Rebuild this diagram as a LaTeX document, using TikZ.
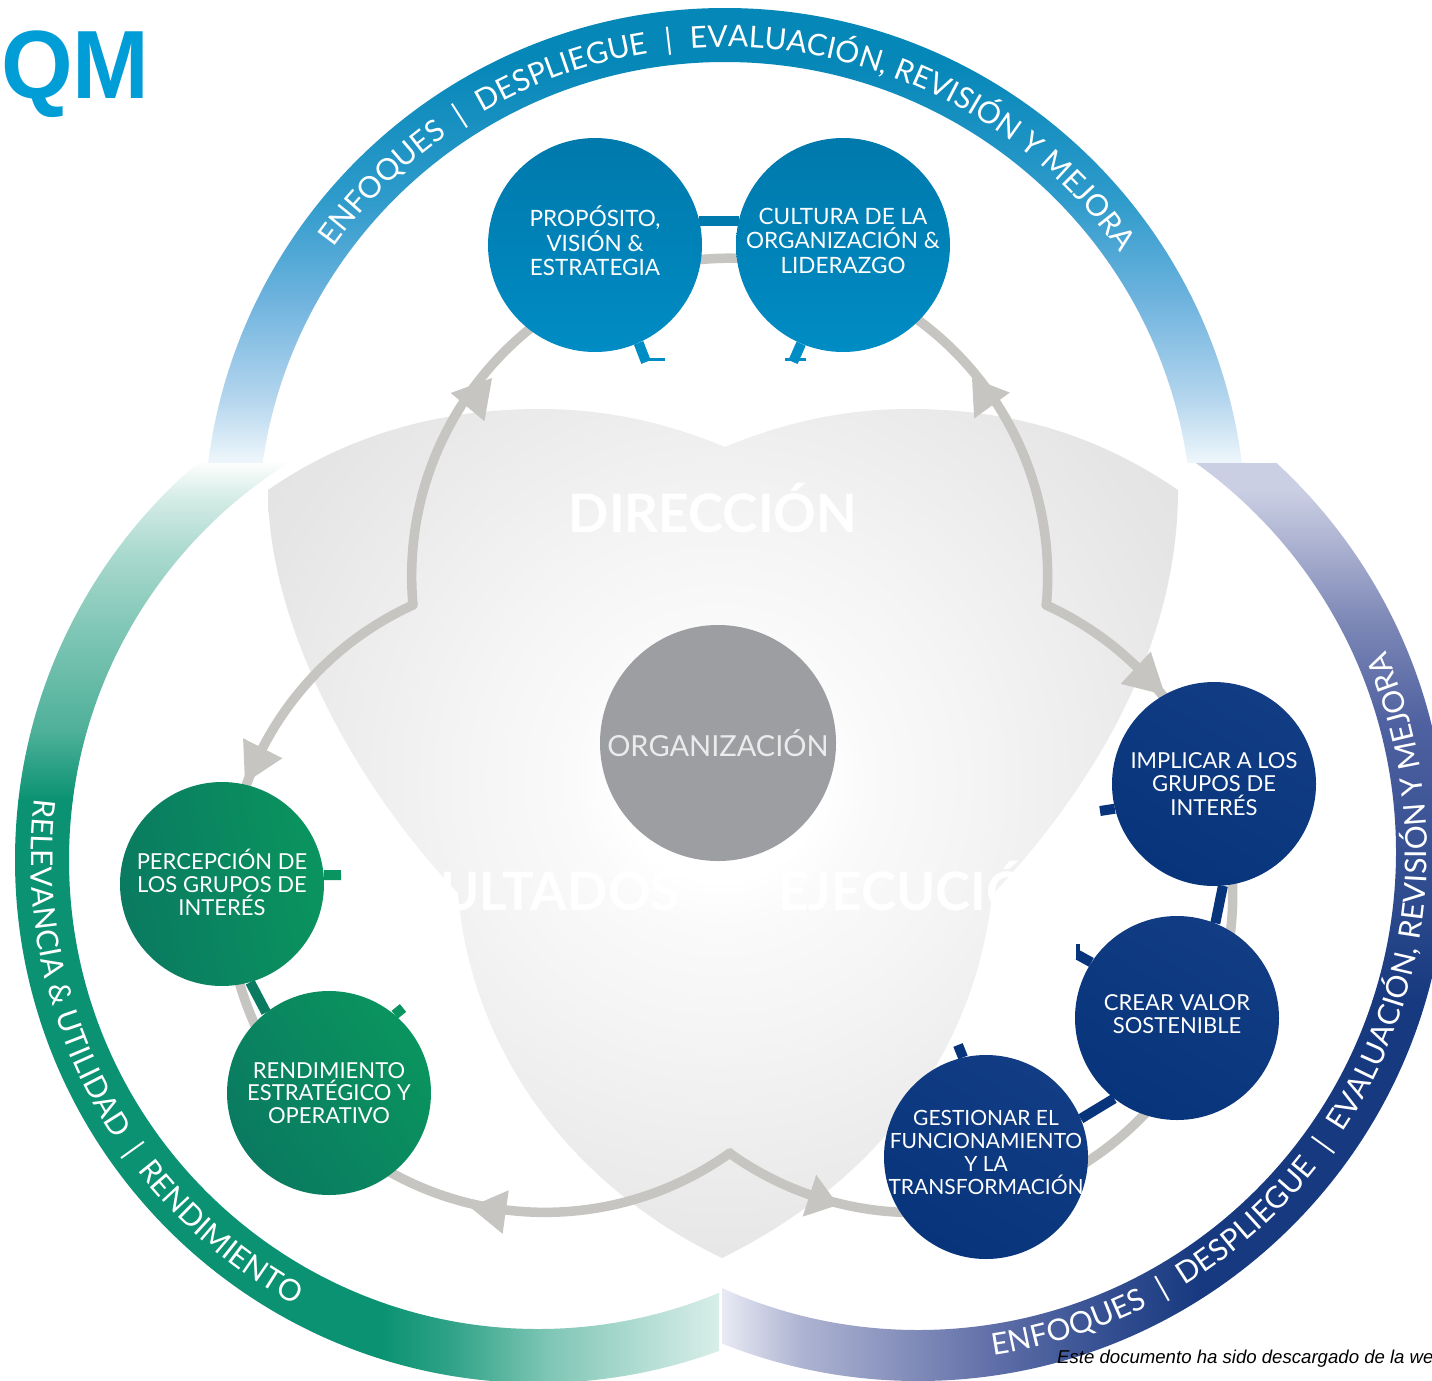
\documentclass[tikz,border=0pt]{standalone}
\usepackage{fontspec}
\setmainfont{Lato}
\newfontfamily\arialfont{Liberation Sans}
\newfontface\arialbold{Liberation Sans Bold}
\usetikzlibrary{decorations.text}

\definecolor{ringblue}{HTML}{0587B8}
\definecolor{ringsky}{HTML}{6FB3DE}
\definecolor{ringsky2}{HTML}{2E9BCB}
\definecolor{ringsky3}{HTML}{B5D6EE}
\definecolor{ringsky4}{HTML}{EEF6FB}
\definecolor{ringgreen}{HTML}{0A9272}
\definecolor{ringnavy}{HTML}{17397F}
\definecolor{nv1}{HTML}{E9EAF4}
\definecolor{nv2}{HTML}{CBCFE4}
\definecolor{nv3}{HTML}{AEB4D2}
\definecolor{nv4}{HTML}{7C87B6}
\definecolor{nv5}{HTML}{4F61A0}
\definecolor{nv6}{HTML}{2C4A8D}
\definecolor{linegrey}{HTML}{C6C5C1}
\definecolor{barblue}{HTML}{0079AC}
\definecolor{barblue2}{HTML}{008CC4}
\definecolor{barnavy}{HTML}{07347A}
\definecolor{barnavy2}{HTML}{123D85}
\definecolor{bargreen}{HTML}{0A7A60}
\definecolor{bargreen2}{HTML}{0A945F}
\definecolor{orggrey}{HTML}{9D9EA2}
\definecolor{qmblue}{HTML}{009DD6}

\pgfdeclareverticalshading{topring}{100bp}{color(0bp)=(ringsky4); color(25bp)=(ringsky4); color(31.7bp)=(ringsky3); color(42.5bp)=(ringsky); color(53.4bp)=(ringsky2); color(68.5bp)=(ringblue); color(100bp)=(ringblue)}
\pgfdeclareverticalshading{greenup}{100bp}{color(0bp)=(ringgreen); color(25bp)=(ringgreen); color(34.7bp)=(ringgreen!72!white); color(48.6bp)=(ringgreen!52!white); color(59.7bp)=(ringgreen!34!white); color(66.7bp)=(ringgreen!18!white); color(72.2bp)=(white); color(100bp)=(white)}
\pgfdeclarehorizontalshading{greenlow}{100bp}{color(0bp)=(ringgreen); color(25bp)=(ringgreen); color(35.3bp)=(ringgreen!85!white); color(50bp)=(ringgreen!52!white); color(64.7bp)=(ringgreen!30!white); color(75bp)=(ringgreen!16!white); color(100bp)=(ringgreen!16!white)}
\pgfdeclareverticalshading{navyup}{100bp}{color(0bp)=(ringnavy); color(25bp)=(ringnavy); color(33.7bp)=(nv6); color(50.8bp)=(nv5); color(60.1bp)=(nv4); color(67.8bp)=(nv3); color(72.5bp)=(nv2); color(75bp)=(nv2); color(100bp)=(nv2)}
\pgfdeclarehorizontalshading{navylow}{100bp}{color(0bp)=(nv1); color(25bp)=(nv1); color(33.2bp)=(nv3); color(43.6bp)=(nv4!80!nv3); color(54.1bp)=(nv5!70!nv4); color(64.5bp)=(nv6!70!nv5); color(75bp)=(ringnavy); color(100bp)=(ringnavy)}
\pgfdeclareradialshading{blobfill}{\pgfpointorigin}{color(0bp)=(white); color(4bp)=(white); color(6bp)=(black!2); color(10bp)=(black!4); color(15bp)=(black!7); color(20bp)=(black!10); color(25bp)=(black!12); color(50bp)=(black!12)}

\begin{document}
\begin{tikzpicture}[x=1pt,y=-1pt]
\tikzstyle{dot1} = [circle,minimum size=214pt,inner sep=-30pt,align=center,text=white,top color=barblue,bottom color=barblue2,font=\fontsize{22.5}{24.5}\selectfont]
\tikzstyle{dot2} = [circle,minimum size=204pt,inner sep=-30pt,align=center,text=white,top color=barnavy2,bottom color=barnavy,shading angle=-30,font=\fontsize{22}{23.3}\selectfont]
\tikzstyle{dot3} = [circle,minimum size=204pt,inner sep=-30pt,align=center,text=white,left color=bargreen,right color=bargreen2,shading angle=125,font=\fontsize{22}{22.7}\selectfont]
\tikzstyle{word} = [white,inner sep=0pt,font=\fontsize{53}{53}\selectfont\bfseries]
\tikzstyle{flower} = [linegrey,line width=9.5pt,line cap=round]
\tikzstyle{head} = [fill=linegrey]
\tikzstyle{bar} = [line width=10pt]
\tikzstyle{ringtext} = [decorate,decoration={text along path,text format delimiters={<}{>},text align=fit to path}]

\pgfdeclarelayer{background}
\pgfsetlayers{background,main}

\clip (0,0) rectangle (1432,1381);

\coordinate (ct) at (725,529);
\coordinate (cl) at (538,860);
\coordinate (cr) at (918,852);
\coordinate (fl) at (413,605);
\coordinate (fr) at (1046,605);
\coordinate (fb) at (730,1153);

\node[dot1] (n1) at (595,245) {PROPÓSITO,\\VISIÓN \&\\ESTRATEGIA\\[-16pt]};
\node[dot1,right of=n1,node distance=248pt] (n2) {CULTURA DE LA\\ORGANIZACIÓN \&\\LIDERAZGO\\[-16pt]};
\node[dot2] (n3) at (1214,784) {IMPLICAR A LOS\\GRUPOS DE\\INTERÉS};
\node[dot2] (n4) at (1177,1018) {CREAR VALOR\\SOSTENIBLE\\[-16pt]};
\node[dot2,font=\fontsize{21}{23.3}\selectfont] (n5) at (986,1157) {GESTIONAR EL\\FUNCIONAMIENTO\\Y LA\\TRANSFORMACIÓN\\[-14pt]};
\node[dot3,shading angle=100] (n6) at (222,884) {PERCEPCIÓN DE\\LOS GRUPOS DE\\INTERÉS\\[-19pt]};
\node[dot3] (n7) at (329,1093) {RENDIMIENTO\\ESTRATÉGICO Y\\OPERATIVO};

\coordinate (s1) at (646,362);
\coordinate (s2) at (793,362);
\coordinate (s3) at (1100,811);
\coordinate (s4) at (1078,955);
\coordinate (s5) at (958,1045);
\coordinate (s6) at (341,875);
\coordinate (s7) at (403,1008);

\begin{pgfonlayer}{background}
\fill[white] (0,0) rectangle (1432,1381);

\begin{scope}[even odd rule]
\clip (cl) circle (523) (cl) circle (469);
\shade[shading=greenup] (0,440) rectangle (719,800);
\fill[ringgreen] (0,800) rectangle (380,1381);
\shade[shading=greenlow] (380,1000) rectangle (719,1381);
\end{scope}
\begin{scope}[even odd rule]
\clip (cr) circle (529) (cr) circle (478);
\shade[shading=navyup] (1100,463) rectangle (1460,1000);
\fill[ringnavy] (1200,1000) rectangle (1460,1381);
\shade[shading=navylow] (722,1000) rectangle (1200,1381);
\end{scope}
\begin{scope}[even odd rule]
\clip (ct) circle (521) (ct) circle (467);
\shade[shading=topring] (0,0) rectangle (1432,462);
\end{scope}

\begin{scope}
\clip (725,447) .. controls (660,420) and (600,409) .. (540,409) .. controls (430,409) and (340,440) .. (268,490)
  .. controls (268,620) and (350,780) .. (458,893)
  .. controls (470,1040) and (560,1180) .. (722,1258)
  .. controls (880,1180) and (975,1050) .. (992,895)
  .. controls (1100,780) and (1178,640) .. (1178,490)
  .. controls (1105,440) and (1020,409) .. (910,409) .. controls (850,409) and (790,420) .. (725,447) -- cycle;
\shade[shading=blobfill] (720,780) circle (620);
\end{scope}

\draw[flower] (fl) arc[start angle=174.8,end angle=365.2,radius=318];
\draw[flower] (fl) arc[start angle=245.5,end angle=54.4,radius=318];
\draw[flower] (fr) arc[start angle=-65.6,end angle=125.5,radius=318];

\foreach \x/\y/\r/\l in {492/378/50/38,972/378/126/34,1165/695/-43/40,245/783/-117/39,470/1207/172/36,838/1205/-18/30}
  \fill[head,shift={(\x,\y)},rotate=\r] (0,0) -- (-\l,-22) -- (-\l,22) -- cycle;

\draw[bar,barblue] (n1.13) -- (n2.167);
\draw[bar,barnavy] (n3.-85) -- (n4.68);
\draw[bar,barnavy] (n4.-128) -- (n5.22);
\draw[bar,bargreen] (n6.-74) -- (n7.128);

\draw[bar,barblue2] (n1.-66) -- (s1);
\draw[line width=3pt,barblue2] (640,359.5) -- (665,359.5);
\draw[bar,barblue2] (n2.-113) -- (s2);
\draw[line width=3pt,barblue2] (785,359.5) -- (806,359.5);
\draw[bar,barnavy] (n3.194) -- (s3);
\draw[bar,barnavy] (n4.147) -- (s4);
\draw[line width=4pt,barnavy] (1078,944) -- (1078,960);
\draw[bar,barnavy] (n5.103) -- (s5);
\draw[bar,bargreen2] (n6.5) -- (s6);
\draw[bar,bargreen2] (n7.50) -- (s7);
\end{pgfonlayer}

\path[ringtext,shift={(ct)},decoration={text={<\fontsize{30}{30}\selectfont\color{white}>ENFOQUES{\hskip17pt|\hskip17pt}DESPLIEGUE{\hskip17pt|\hskip17pt}EVALUACIÓN, REVISIÓN Y MEJORA}}] (215.7:482) arc[start angle=215.7,end angle=325.1,radius=482];
\path[ringtext,shift={(cr)},decoration={text={<\fontsize{30}{30}\selectfont\color{white}>ENFOQUES{\hskip17pt|\hskip17pt}DESPLIEGUE{\hskip17pt|\hskip17pt}EVALUACIÓN, REVISIÓN Y MEJORA}}] (81.5:509) arc[start angle=81.5,end angle=-23.3,radius=509];
\path[ringtext,shift={(cl)},decoration={text={<\fontsize{30}{30}\selectfont\color{white}>RELEVANCIA {\&} UTILIDAD{\hskip15pt|\hskip15pt}RENDIMIENTO}}] (187:507) arc[start angle=187,end angle=118.6,radius=507];

\node[fill=orggrey,circle,minimum size=236pt,inner sep=0pt,text=white!92!black,font=\fontsize{29}{29}\selectfont] (org) at (718,743) {ORGANIZACIÓN};

\node[word,anchor=base] (w1) at (713,532) {DIRECCIÓN};
\node[word,anchor=base east] (w2) at (680,910) {RESULTADOS};
\node[word,anchor=base west] (w3) at (778,910) {EJECUCIÓN};

\node[anchor=base west,inner sep=0pt,text=qmblue,xscale=.95,transform shape,font=\arialbold\fontsize{97}{97}\selectfont] (qm) at (1,98) {QM};
\node[anchor=base west,inner sep=0pt,font=\arialfont\fontsize{18.6}{18.6}\selectfont\itshape] (foot) at (1057,1363) {Este documento ha sido descargado de la we};
\end{tikzpicture}
\end{document}
